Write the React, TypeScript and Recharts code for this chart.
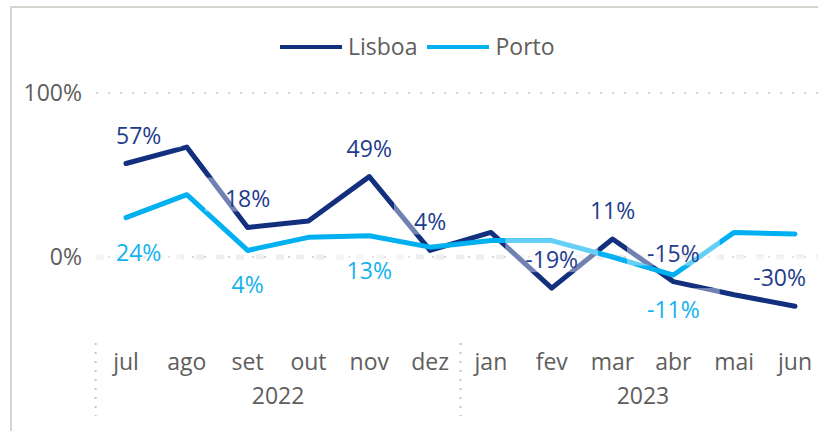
import { LineChart, Line, XAxis, YAxis, CartesianGrid, ReferenceLine, LabelList } from "recharts";

const MONTHS = ["jul", "ago", "set", "out", "nov", "dez", "jan", "fev", "mar", "abr", "mai", "jun"];
const YEARS = ["2022", "2022", "2022", "2022", "2022", "2022", "2023", "2023", "2023", "2023", "2023", "2023"];
const LISBOA = [57, 67, 18, 22, 49, 4, 15, -19, 11, -15, -23, -30];
const PORTO = [24, 38, 4, 12, 13, 6, 10, 10, 0, -11, 15, 14];
// which points carry a data label
const LISBOA_LABELLED = [0, 2, 4, 5, 7, 8, 9, 11];
const PORTO_LABELLED = [0, 2, 4, 9];
const Y_TICKS = [0, 100];

const NAVY = "#13307f";
const NAVY_TEXT = "#1f3c8c";
const CYAN = "#00b0f0";
const CYAN_TEXT = "#12b2ee";
const GREY = "#605e5c";
const FONT = "'Segoe UI', 'Open Sans', sans-serif";
const FS = 23;

const W = 830;
const H = 431;
const MARGIN = { top: 93, right: 4, bottom: 32, left: 0 };
const Y_W = 96;
const PAD = { left: 30, right: 31 };
const PLOT_LEFT = MARGIN.left + Y_W;
const PLOT_RIGHT = W - MARGIN.right;
const STEP = (PLOT_RIGHT - PAD.right - (PLOT_LEFT + PAD.left)) / (MONTHS.length - 1);

const rows = MONTHS.map((m, i) => ({ month: m, lisboa: LISBOA[i], porto: PORTO[i] }));

let ctx: CanvasRenderingContext2D | null = null;
function textWidth(s: string) {
  if (!ctx) ctx = document.createElement("canvas").getContext("2d");
  if (!ctx) return s.length * FS * 0.55;
  ctx.font = `${FS}px ${FONT}`;
  return ctx.measureText(s).width;
}

function makeLabel(labelled: number[], color: string, below: boolean) {
  return (p: any) => {
    const idx = p.index;
    if (!labelled.includes(idx)) return null;
    const px = p.x ?? p.viewBox?.x;
    const py = p.y ?? p.viewBox?.y;
    if (px == null || py == null) return null;
    const text = `${Math.round(Number(p.value))}%`;
    const w = textWidth(text) + 40;
    const base = below ? py + 43 : py - 20;
    const cx = Math.max(PLOT_LEFT + w / 2, Math.min(PLOT_RIGHT - w / 2, px));
    return (
      <g key={`lbl-${idx}`}>
        <rect x={cx - w / 2} y={base - 30} width={w} height={34} fill="#ffffff" fillOpacity={0.4} />
        <text x={cx} y={base} textAnchor="middle" fill={color} fontSize={FS} fontFamily={FONT}>
          {text}
        </text>
      </g>
    );
  };
}

function MonthTick(p: any) {
  const { x, y, payload } = p;
  const i = MONTHS.indexOf(payload.value);
  const first = i === 0 || YEARS[i] !== YEARS[i - 1];
  let last = i;
  while (last + 1 < YEARS.length && YEARS[last + 1] === YEARS[i]) last++;
  const sx = x - STEP / 2;
  return (
    <g>
      <text x={x} y={y + 31} textAnchor="middle" fill={GREY} fontSize={FS} fontFamily={FONT}>
        {payload.value}
      </text>
      {first && (
        <>
          <path d={`M${sx},${y + 4}V${y + 77}`} stroke="#c8c6c4" strokeWidth={2} strokeDasharray="2 7" fill="none" />
          <text x={x + ((last - i) / 2) * STEP} y={y + 65} textAnchor="middle" fill={GREY} fontSize={FS} fontFamily={FONT}>
            {YEARS[i]}
          </text>
        </>
      )}
    </g>
  );
}

const LEGEND = [
  { name: "Lisboa", color: NAVY },
  { name: "Porto", color: CYAN },
];

export default function App() {
  return (
    <div style={{ position: "absolute", left: 0, top: 0, width: 818, height: 431, overflow: "hidden", background: "#fff", fontFamily: FONT }}>
      <div style={{ position: "absolute", left: 10, top: 6, width: 900, height: 500, border: "2px solid #d6d4cf", boxSizing: "border-box" }} />
      <div style={{ position: "absolute", left: 280, top: 31, height: 31, display: "flex", alignItems: "center" }}>
        {LEGEND.map((l) => (
          <div key={l.name} style={{ display: "flex", alignItems: "center", marginRight: 10 }}>
            <span style={{ display: "inline-block", width: 62, height: 4, background: l.color, marginRight: 6 }} />
            <span style={{ fontSize: FS, color: GREY, lineHeight: "31px" }}>{l.name}</span>
          </div>
        ))}
      </div>
      <div style={{ position: "absolute", left: 0, top: 0 }}>
        <LineChart width={W} height={H} data={rows} margin={MARGIN}>
          <CartesianGrid vertical={false} horizontalValues={Y_TICKS} stroke="#c8c6c4" strokeWidth={1.5} strokeDasharray="2 10" />
          <ReferenceLine y={0} stroke="#eeeeee" strokeWidth={5} strokeDasharray="8 12" />
          <YAxis
            domain={[-50, 100]}
            ticks={Y_TICKS}
            tickFormatter={(v: number) => `${v}%`}
            width={Y_W}
            axisLine={false}
            tickLine={false}
            tickSize={0}
            tickMargin={14}
            tick={{ fill: GREY, fontSize: FS, fontFamily: FONT }}
          />
          <XAxis
            dataKey="month"
            height={60}
            padding={PAD}
            axisLine={false}
            tickLine={false}
            tickSize={0}
            tickMargin={0}
            interval={0}
            tick={<MonthTick />}
          />
          <Line dataKey="lisboa" stroke={NAVY} strokeWidth={5} strokeLinecap="round" strokeLinejoin="round" dot={false} activeDot={false} isAnimationActive={false} />
          <Line dataKey="porto" stroke={CYAN} strokeWidth={5} strokeLinecap="round" strokeLinejoin="round" dot={false} activeDot={false} isAnimationActive={false} />
          <Line dataKey="lisboa" stroke="none" dot={false} activeDot={false} isAnimationActive={false} legendType="none">
            <LabelList dataKey="lisboa" content={makeLabel(LISBOA_LABELLED, NAVY_TEXT, false)} />
          </Line>
          <Line dataKey="porto" stroke="none" dot={false} activeDot={false} isAnimationActive={false} legendType="none">
            <LabelList dataKey="porto" content={makeLabel(PORTO_LABELLED, CYAN_TEXT, true)} />
          </Line>
        </LineChart>
      </div>
    </div>
  );
}
